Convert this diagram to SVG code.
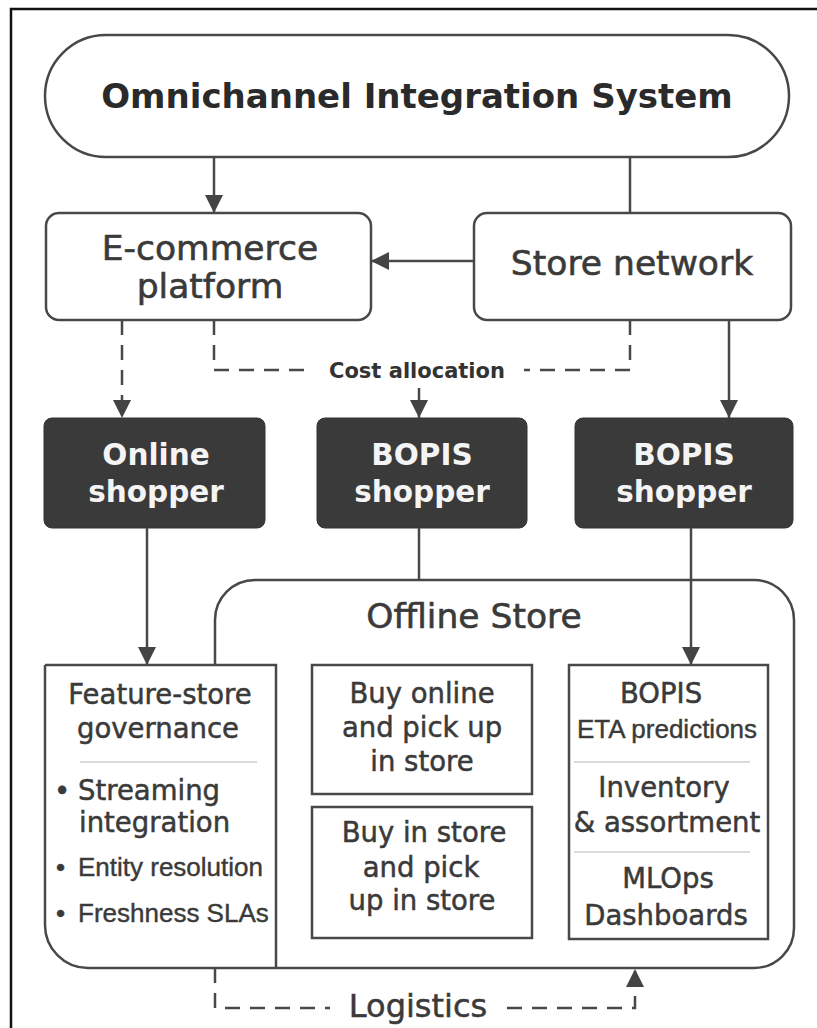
<svg xmlns="http://www.w3.org/2000/svg" width="817" height="1028" viewBox="0 0 817 1028">
  <style>
    .frame { fill: none; stroke: #111; stroke-width: 2.5; }
    .box { fill: #fff; stroke: #484848; stroke-width: 2.5; }
    .dark { fill: #3a3a3a; stroke: #333; stroke-width: 1; }
    .edge { fill: none; stroke: #484848; stroke-width: 2.5; }
    .wire { fill: none; stroke: #484848; stroke-width: 2.5; }
    .dash { stroke-dasharray: 15 10; }
    .sep { stroke: #cfcfcf; stroke-width: 1.5; }
    .t { font-family: "DejaVu Sans", Verdana, sans-serif; fill: #3a3a3a; text-anchor: middle; }
    .title { font-size: 34px; font-weight: bold; fill: #2a2a2a; }
    .lbl { font-size: 34.5px; stroke: #3a3a3a; stroke-width: 0.6; }
    .wht { font-size: 29.5px; font-weight: bold; fill: #f4f4f4; }
    .body { font-size: 27.5px; stroke: #3a3a3a; stroke-width: 0.5; }
    .cnd { font-family: "Liberation Sans", Arial, sans-serif; font-size: 26px; fill: #3a3a3a; stroke: #3a3a3a; stroke-width: 0.4; }
    .cost { font-size: 21px; font-weight: bold; fill: #333; }
    .logi { font-size: 32px; stroke: #3a3a3a; stroke-width: 0.5; }
    .left { text-anchor: start; }
  </style>
  <defs>
    <marker id="ah" viewBox="0 0 18 18" refX="18" refY="9" markerWidth="18" markerHeight="18" markerUnits="userSpaceOnUse" orient="auto">
      <path d="M0 0 L18 9 L0 18 Z" fill="#444"/>
    </marker>
  </defs>

  <rect width="817" height="1028" fill="#fff"/>
  <rect class="frame" x="11" y="9" width="830" height="1040"/>

  <!-- top-level system -->
  <g id="omnichannel">
    <rect class="box" x="45" y="35" width="744" height="122" rx="61" ry="61"/>
    <text class="t title" x="417" y="108">Omnichannel Integration System</text>
  </g>

  <g id="ecommerce">
    <rect class="box" x="46" y="213" width="325" height="107" rx="13"/>
    <text class="t lbl" x="210" y="260">E-commerce</text>
    <text class="t lbl" x="210" y="298">platform</text>
  </g>

  <g id="store-network">
    <rect class="box" x="474" y="213" width="317" height="107" rx="13"/>
    <text class="t lbl" x="632" y="275">Store network</text>
  </g>

  <!-- shopper types -->
  <g id="online-shopper">
    <rect class="dark" x="44" y="418" width="221" height="110" rx="8"/>
    <text class="t wht" x="156" y="465">Online</text>
    <text class="t wht" x="156" y="502">shopper</text>
  </g>

  <g id="bopis-shopper-mid">
    <rect class="dark" x="317" y="418" width="210" height="110" rx="8"/>
    <text class="t wht" x="422" y="465">BOPIS</text>
    <text class="t wht" x="422" y="502">shopper</text>
  </g>

  <g id="bopis-shopper-right">
    <rect class="dark" x="575" y="418" width="218" height="110" rx="8"/>
    <text class="t wht" x="684" y="465">BOPIS</text>
    <text class="t wht" x="684" y="502">shopper</text>
  </g>

  <!-- offline store container -->
  <g id="offline-store">
    <path class="edge" d="M215 665 V620 A40 40 0 0 1 255 580 H754 A40 40 0 0 1 794 620 V928 A40 40 0 0 1 754 968 H88 A43 43 0 0 1 45 925 V665"/>
    <text class="t lbl" x="474" y="628">Offline Store</text>
  </g>

  <g id="feature-store">
    <path class="edge" d="M45 665 H276 V968"/>
    <text class="t body" x="160" y="704">Feature-store</text>
    <text class="t body" x="158" y="738">governance</text>
    <line class="sep" x1="80" y1="762" x2="257" y2="762"/>
    <text class="t body left" x="54" y="800">• <tspan x="78">Streaming</tspan></text>
    <text class="t body left" x="79" y="832">integration</text>
    <text class="cnd" x="56" y="876">• <tspan x="78">Entity resolution</tspan></text>
    <text class="cnd" x="56" y="922">• <tspan x="78">Freshness SLAs</tspan></text>
  </g>

  <g id="buy-online">
    <rect class="box" x="312" y="665" width="220" height="129"/>
    <text class="t body" x="422" y="703">Buy online</text>
    <text class="t body" x="422" y="737">and pick up</text>
    <text class="t body" x="422" y="771">in store</text>
  </g>

  <g id="buy-in-store">
    <rect class="box" x="312" y="807" width="220" height="131"/>
    <text class="t body" x="424" y="842">Buy in store</text>
    <text class="t body" x="421" y="877">and pick</text>
    <text class="t body" x="422" y="910">up in store</text>
  </g>

  <g id="bopis-analytics">
    <rect class="box" x="569" y="665" width="199" height="274"/>
    <text class="t body" x="661" y="703">BOPIS</text>
    <text class="cnd" x="667" y="738" text-anchor="middle">ETA predictions</text>
    <line class="sep" x1="574" y1="762" x2="750" y2="762"/>
    <text class="t body" x="664" y="797">Inventory</text>
    <text class="t body" x="667" y="832">&amp; assortment</text>
    <line class="sep" x1="574" y1="852" x2="750" y2="852"/>
    <text class="t body" x="668" y="888">MLOps</text>
    <text class="t body" x="666" y="925">Dashboards</text>
  </g>

  <!-- connectors -->
  <g id="connectors">
    <path class="wire" d="M214 157 V213" marker-end="url(#ah)"/>
    <path class="wire" d="M630 157 V213"/>
    <path class="wire" d="M474 261 H371" marker-end="url(#ah)"/>
    <path class="wire dash" d="M122 320 V418" marker-end="url(#ah)"/>
    <path class="wire dash" d="M214 320 V370 H308"/>
    <path class="wire dash" d="M630 320 V370 H524"/>
    <path class="wire" d="M419 388 V418" marker-end="url(#ah)"/>
    <path class="wire" d="M729 320 V418" marker-end="url(#ah)"/>
    <path class="wire" d="M147 528 V665" marker-end="url(#ah)"/>
    <path class="wire" d="M419 528 V580"/>
    <path class="wire" d="M691 528 V665" marker-end="url(#ah)"/>
    <path class="wire dash" d="M215 968 V1008 H330"/>
    <path class="wire dash" d="M507 1008 H635 V969" marker-end="url(#ah)"/>
    <text class="t cost" x="417" y="378">Cost allocation</text>
    <text class="t logi" x="418" y="1017">Logistics</text>
  </g>
</svg>
